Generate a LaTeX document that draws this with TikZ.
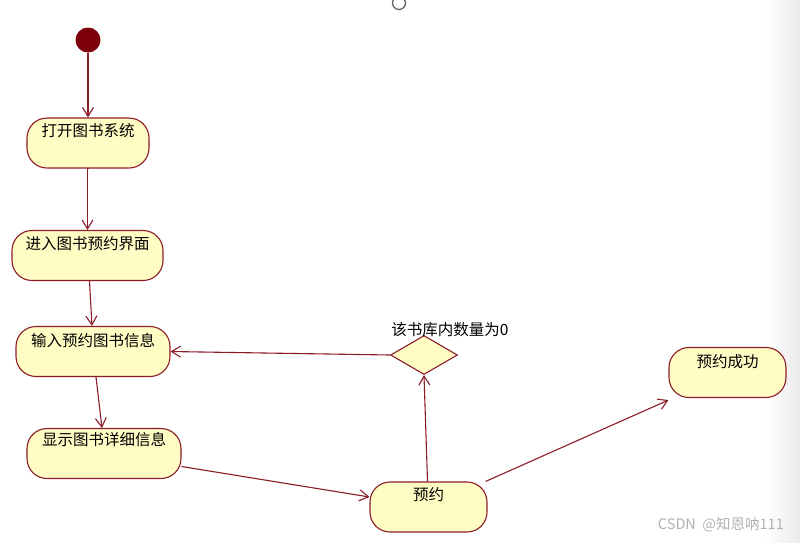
\documentclass[tikz,border=0pt]{standalone}
\usepackage{fontspec}
\newfontfamily\cjk{Noto Sans CJK SC}
\usetikzlibrary{arrows.meta,shapes.geometric}
\definecolor{edgecol}{RGB}{140,28,40}
\definecolor{actfill}{RGB}{255,252,196}
\definecolor{startcol}{RGB}{125,0,10}
\begin{document}
\begin{tikzpicture}[x=1pt,y=-1pt,
  act/.style={draw=edgecol, fill=actfill, rounded corners=20pt, line width=1.1pt, minimum height=50pt, inner sep=0pt},
  txt/.style={font=\cjk\fontsize{15.5}{17}\selectfont, inner sep=0pt, text=black},
  flow/.style={draw=edgecol, line width=1.1pt, -{Straight Barb[length=9pt,width=11pt]}},
  dec/.style={diamond, draw=edgecol, fill=actfill, line width=1.1pt, minimum width=67pt, minimum height=39pt, inner sep=0pt}
]
\useasboundingbox (0,0) rectangle (800,542);
\fill[white] (0,0) rectangle (800,542);
\shade[left color=white, right color=black!8] (765,0) rectangle (800,542);
\draw[black!60, line width=1.3pt] (399,3) circle (6.5);

\node[circle, fill=startcol, minimum size=25pt, inner sep=0pt] (s) at (88,40) {};
\node[act, minimum width=122pt] (a1) at (88,143) {};
\node[act, minimum width=151pt] (a2) at (87.5,255.5) {};
\node[act, minimum width=154pt] (a3) at (93,351.5) {};
\node[act, minimum width=154pt] (a4) at (104,453.5) {};
\node[act, minimum width=117pt] (a6) at (428.5,507) {};
\node[act, minimum width=117pt] (a7) at (727.5,372.5) {};
\node[dec] (d) at (424,355) {};

\node[txt] (t1) at (88,131) {打开图书系统};
\node[txt] (t2) at (87.5,244) {进入图书预约界面};
\node[txt] (t3) at (93,341) {输入预约图书信息};
\node[txt] (t4) at (104,440) {显示图书详细信息};
\node[txt] (t6) at (428.5,495) {预约};
\node[txt] (t7) at (727.5,362) {预约成功};
\node[txt] (td) at (450,330) {该书库内数量为0};

\draw[flow] (s) -- (a1.north);
\draw[flow] (a1.south) -- (a2.north |- a1.south) -- (a2.north);
\draw[flow] ([xshift=2pt]a2.south) -- ([xshift=-1pt]a3.north);
\draw[flow] ([xshift=3pt]a3.south) -- ([xshift=-2pt]a4.north);
\draw[flow] ([yshift=-13pt]a4.east) -- ([yshift=10pt]a6.west);
\draw[flow] ([xshift=-1pt]a6.north) -- (d.south);
\draw[flow] (d.west) -- (a3.east);
\draw[flow] ([xshift=-2pt]a6.north east) -- ([yshift=-2pt]a7.south west);

\node[font=\cjk\fontsize{14.5}{16}\selectfont, text=black!30, anchor=east, inner sep=0pt] (wm) at (784,525) {CSDN\ \ @知恩呐111};
\end{tikzpicture}
\end{document}
